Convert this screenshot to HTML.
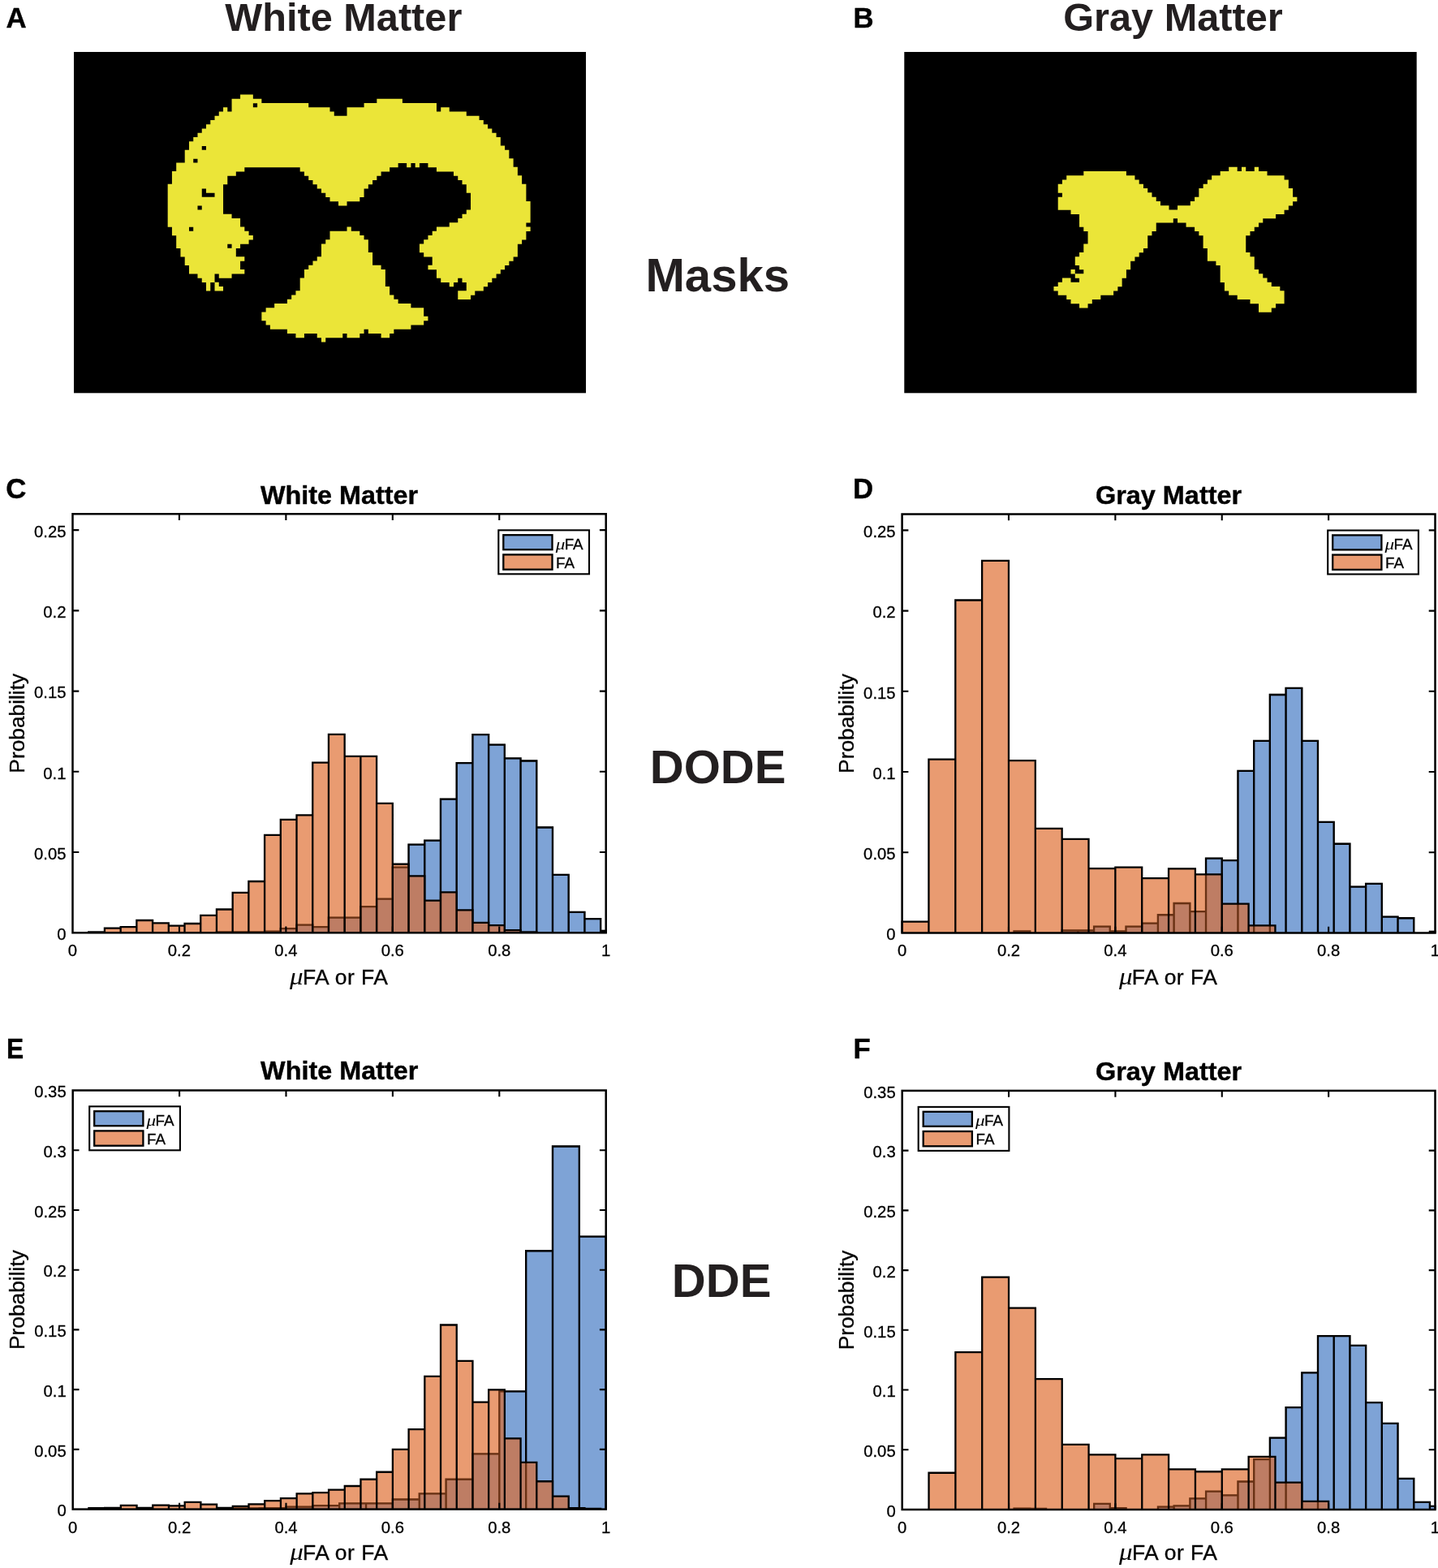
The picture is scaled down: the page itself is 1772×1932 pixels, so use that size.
<!DOCTYPE html>
<html lang="en">
<head>
<meta charset="utf-8">
<title>White and gray matter masks with μFA and FA histograms</title>
<style>
html,body{margin:0;padding:0;background:#fff}
body{width:1772px;height:1932px;overflow:hidden}
svg{display:block}
text{font-family:"Liberation Sans",sans-serif}
.mu{font-family:"Liberation Serif","DejaVu Serif",serif;font-style:italic}
</style>
</head>
<body>
<svg width="1772" height="1932" viewBox="0 0 1772 1932">
<rect width="1772" height="1932" fill="#fff"/>
<text x="7.6" y="34" font-size="34.8" font-weight="bold" text-anchor="start" fill="#000" stroke="#000" stroke-width="0.4">A</text>
<text x="1051.5" y="34" font-size="34.8" font-weight="bold" text-anchor="start" fill="#000" stroke="#000" stroke-width="0.4">B</text>
<text x="7.2" y="613.7" font-size="34.8" font-weight="bold" text-anchor="start" fill="#000" stroke="#000" stroke-width="0.4">C</text>
<text x="1051" y="614" font-size="34.8" font-weight="bold" text-anchor="start" fill="#000" stroke="#000" stroke-width="0.4">D</text>
<text x="7.9" y="1303.75" font-size="34.8" font-weight="bold" text-anchor="start" fill="#000" stroke="#000" stroke-width="0.4" textLength="21.2" lengthAdjust="spacingAndGlyphs">E</text>
<text x="1051.5" y="1304" font-size="34.8" font-weight="bold" text-anchor="start" fill="#000" stroke="#000" stroke-width="0.4">F</text>
<text x="423.3" y="37.9" font-size="48.7" font-weight="bold" text-anchor="middle" fill="#231f20" >White Matter</text>
<text x="1445.5" y="37.9" font-size="48.7" font-weight="bold" text-anchor="middle" fill="#231f20" >Gray Matter</text>
<text x="884.3" y="359.2" font-size="58.1" font-weight="bold" text-anchor="middle" fill="#231f20" >Masks</text>
<text x="884.6" y="965" font-size="58.1" font-weight="bold" text-anchor="middle" fill="#231f20" >DODE</text>
<text x="889.2" y="1598" font-size="58.1" font-weight="bold" text-anchor="middle" fill="#231f20" >DDE</text>
<rect x="91" y="64" width="631" height="420.3" fill="#000"/>
<path d="M296.08 116.54H311.85V122.09H296.08ZM285.56 121.79H322.37V127.34H285.56ZM464.34 121.79H495.89V127.34H464.34ZM285.56 127.05H311.85V132.60H285.56ZM317.11 127.05H380.21V132.60H317.11ZM448.57 127.05H537.96V132.60H448.57ZM275.04 132.30H280.30V137.85H275.04ZM285.56 132.30H406.50V137.85H285.56ZM427.53 132.30H537.96V137.85H427.53ZM543.22 132.30H553.73V137.85H543.22ZM269.78 137.55H411.76V143.11H269.78ZM427.53 137.55H574.77V143.11H427.53ZM264.52 142.81H590.54V148.36H264.52ZM259.27 148.06H595.80V153.61H259.27ZM254.01 153.31H601.06V158.87H254.01ZM248.75 158.57H606.32V164.12H248.75ZM243.49 163.82H611.58V169.38H243.49ZM238.23 169.07H616.83V174.63H238.23ZM232.98 174.33H616.83V179.88H232.98ZM232.98 179.58H248.75V185.14H232.98ZM254.01 179.58H622.09V185.14H254.01ZM227.72 184.84H627.35V190.39H227.72ZM227.72 190.09H627.35V195.64H227.72ZM227.72 195.34H238.23V200.90H227.72ZM243.49 195.34H632.61V200.90H243.49ZM217.20 200.60H490.63V206.15H217.20ZM501.15 200.60H506.41V206.15H501.15ZM511.67 200.60H516.92V206.15H511.67ZM527.44 200.60H632.61V206.15H527.44ZM217.20 205.85H301.33V211.41H217.20ZM369.69 205.85H480.12V211.41H369.69ZM537.96 205.85H637.87V211.41H537.96ZM211.94 211.11H290.82V216.66H211.94ZM374.95 211.11H469.60V216.66H374.95ZM558.99 211.11H637.87V216.66H558.99ZM211.94 216.36H280.30V221.91H211.94ZM380.21 216.36H464.34V221.91H380.21ZM564.25 216.36H643.12V221.91H564.25ZM211.94 221.61H280.30V227.17H211.94ZM385.47 221.61H459.08V227.17H385.47ZM569.51 221.61H643.12V227.17H569.51ZM206.68 226.87H275.04V232.42H206.68ZM390.73 226.87H453.83V232.42H390.73ZM574.77 226.87H648.38V232.42H574.77ZM206.68 232.12H248.75V237.67H206.68ZM254.01 232.12H275.04V237.67H254.01ZM395.98 232.12H448.57V237.67H395.98ZM574.77 232.12H648.38V237.67H574.77ZM206.68 237.37H248.75V242.93H206.68ZM264.52 237.37H275.04V242.93H264.52ZM401.24 237.37H448.57V242.93H401.24ZM580.03 237.37H648.38V242.93H580.03ZM206.68 242.63H275.04V248.18H206.68ZM406.50 242.63H443.31V248.18H406.50ZM580.03 242.63H648.38V248.18H580.03ZM206.68 247.88H275.04V253.44H206.68ZM417.02 247.88H427.53V253.44H417.02ZM580.03 247.88H653.64V253.44H580.03ZM206.68 253.13H243.49V258.69H206.68ZM248.75 253.13H275.04V258.69H248.75ZM580.03 253.13H653.64V258.69H580.03ZM206.68 258.39H275.04V263.94H206.68ZM574.77 258.39H653.64V263.94H574.77ZM206.68 263.64H285.56V269.20H206.68ZM569.51 263.64H653.64V269.20H569.51ZM206.68 268.90H296.08V274.45H206.68ZM564.25 268.90H653.64V274.45H564.25ZM206.68 274.15H296.08V279.70H206.68ZM553.73 274.15H648.38V279.70H553.73ZM211.94 279.40H232.98V284.96H211.94ZM238.23 279.40H301.33V284.96H238.23ZM427.53 279.40H432.79V284.96H427.53ZM537.96 279.40H653.64V284.96H537.96ZM211.94 284.66H306.59V290.21H211.94ZM406.50 284.66H443.31V290.21H406.50ZM532.70 284.66H648.38V290.21H532.70ZM217.20 289.91H311.85V295.47H217.20ZM406.50 289.91H448.57V295.47H406.50ZM527.44 289.91H648.38V295.47H527.44ZM217.20 295.17H306.59V300.72H217.20ZM401.24 295.17H453.83V300.72H401.24ZM522.18 295.17H643.12V300.72H522.18ZM217.20 300.42H280.30V305.97H217.20ZM285.56 300.42H296.08V305.97H285.56ZM395.98 300.42H453.83V305.97H395.98ZM516.92 300.42H637.87V305.97H516.92ZM222.46 305.67H290.82V311.23H222.46ZM395.98 305.67H453.83V311.23H395.98ZM516.92 305.67H637.87V311.23H516.92ZM222.46 310.93H290.82V316.48H222.46ZM395.98 310.93H459.08V316.48H395.98ZM522.18 310.93H637.87V316.48H522.18ZM227.72 316.18H301.33V321.73H227.72ZM390.73 316.18H459.08V321.73H390.73ZM532.70 316.18H632.61V321.73H532.70ZM227.72 321.43H296.08V326.99H227.72ZM385.47 321.43H459.08V326.99H385.47ZM532.70 321.43H627.35V326.99H532.70ZM232.98 326.69H296.08V332.24H232.98ZM380.21 326.69H469.60V332.24H380.21ZM527.44 326.69H622.09V332.24H527.44ZM232.98 331.94H301.33V337.50H232.98ZM374.95 331.94H474.86V337.50H374.95ZM537.96 331.94H616.83V337.50H537.96ZM243.49 337.19H264.52V342.75H243.49ZM269.78 337.19H285.56V342.75H269.78ZM374.95 337.19H474.86V342.75H374.95ZM537.96 337.19H611.58V342.75H537.96ZM248.75 342.45H264.52V348.00H248.75ZM369.69 342.45H474.86V348.00H369.69ZM543.22 342.45H564.25V348.00H543.22ZM569.51 342.45H606.32V348.00H569.51ZM254.01 347.70H259.27V353.26H254.01ZM264.52 347.70H269.78V353.26H264.52ZM369.69 347.70H474.86V353.26H369.69ZM553.73 347.70H558.99V353.26H553.73ZM574.77 347.70H601.06V353.26H574.77ZM254.01 352.96H259.27V358.51H254.01ZM264.52 352.96H275.04V358.51H264.52ZM369.69 352.96H480.12V358.51H369.69ZM574.77 352.96H595.80V358.51H574.77ZM364.43 358.21H480.12V363.76H364.43ZM564.25 358.21H585.28V363.76H564.25ZM359.18 363.46H485.38V369.02H359.18ZM564.25 363.46H580.03V369.02H564.25ZM353.92 368.72H490.63V374.27H353.92ZM338.14 373.97H506.41V379.53H338.14ZM327.62 379.23H522.18V384.78H327.62ZM322.37 384.48H522.18V390.03H322.37ZM322.37 389.73H527.44V395.29H322.37ZM327.62 394.99H522.18V400.54H327.62ZM332.88 400.24H506.41V405.79H332.88ZM353.92 405.49H448.57V411.05H353.92ZM453.83 405.49H485.38V411.05H453.83ZM364.43 410.75H374.95V416.30H364.43ZM390.73 410.75H422.28V416.30H390.73ZM427.53 410.75H443.31V416.30H427.53ZM469.60 410.75H480.12V416.30H469.60ZM395.98 416.00H401.24V421.56H395.98Z" fill="#ebe538"/>
<rect x="1114.3" y="64" width="631.4000000000001" height="420.3" fill="#000"/>
<path d="M1514.19 205.85H1524.71V211.41H1514.19ZM1529.97 205.85H1535.23V211.41H1529.97ZM1545.76 205.85H1551.02V211.41H1545.76ZM1335.29 211.11H1387.91V216.66H1335.29ZM1503.66 211.11H1561.54V216.66H1503.66ZM1314.24 216.36H1398.43V221.91H1314.24ZM1493.14 216.36H1582.59V221.91H1493.14ZM1308.98 221.61H1403.69V227.17H1308.98ZM1487.88 221.61H1587.85V227.17H1487.88ZM1303.72 226.87H1408.95V232.42H1303.72ZM1482.62 226.87H1587.85V232.42H1482.62ZM1303.72 232.12H1414.22V237.67H1303.72ZM1477.36 232.12H1593.11V237.67H1477.36ZM1308.98 237.37H1419.48V242.93H1308.98ZM1477.36 237.37H1593.11V242.93H1477.36ZM1303.72 242.63H1424.74V248.18H1303.72ZM1472.09 242.63H1598.37V248.18H1472.09ZM1303.72 247.88H1430.00V253.44H1303.72ZM1466.83 247.88H1593.11V253.44H1466.83ZM1303.72 253.13H1440.52V258.69H1303.72ZM1451.05 253.13H1587.85V258.69H1451.05ZM1319.51 258.39H1582.59V263.94H1319.51ZM1330.03 263.64H1572.07V269.20H1330.03ZM1330.03 268.90H1445.79V274.45H1330.03ZM1451.05 268.90H1556.28V274.45H1451.05ZM1330.03 274.15H1424.74V279.70H1330.03ZM1461.57 274.15H1551.02V279.70H1461.57ZM1335.29 279.40H1424.74V284.96H1335.29ZM1472.09 279.40H1545.76V284.96H1472.09ZM1340.55 284.66H1419.48V290.21H1340.55ZM1477.36 284.66H1540.49V290.21H1477.36ZM1340.55 289.91H1414.22V295.47H1340.55ZM1482.62 289.91H1535.23V295.47H1482.62ZM1340.55 295.17H1414.22V300.72H1340.55ZM1482.62 295.17H1535.23V300.72H1482.62ZM1335.29 300.42H1414.22V305.97H1335.29ZM1482.62 300.42H1535.23V305.97H1482.62ZM1335.29 305.67H1408.95V311.23H1335.29ZM1487.88 305.67H1535.23V311.23H1487.88ZM1330.03 310.93H1403.69V316.48H1330.03ZM1487.88 310.93H1540.49V316.48H1487.88ZM1324.77 316.18H1398.43V321.73H1324.77ZM1487.88 316.18H1545.76V321.73H1487.88ZM1324.77 321.43H1393.17V326.99H1324.77ZM1498.40 321.43H1545.76V326.99H1498.40ZM1330.03 326.69H1393.17V332.24H1330.03ZM1503.66 326.69H1545.76V332.24H1503.66ZM1319.51 331.94H1324.77V337.50H1319.51ZM1335.29 331.94H1387.91V337.50H1335.29ZM1503.66 331.94H1551.02V337.50H1503.66ZM1324.77 337.19H1387.91V342.75H1324.77ZM1503.66 337.19H1556.28V342.75H1503.66ZM1308.98 342.45H1319.51V348.00H1308.98ZM1330.03 342.45H1382.64V348.00H1330.03ZM1503.66 342.45H1561.54V348.00H1503.66ZM1303.72 347.70H1382.64V353.26H1303.72ZM1508.92 347.70H1566.80V353.26H1508.92ZM1298.46 352.96H1377.38V358.51H1298.46ZM1508.92 352.96H1577.33V358.51H1508.92ZM1303.72 358.21H1372.12V363.76H1303.72ZM1514.19 358.21H1582.59V363.76H1514.19ZM1314.24 363.46H1356.34V369.02H1314.24ZM1524.71 363.46H1582.59V369.02H1524.71ZM1319.51 368.72H1345.81V374.27H1319.51ZM1540.49 368.72H1582.59V374.27H1540.49ZM1330.03 373.97H1340.55V379.53H1330.03ZM1551.02 373.97H1572.07V379.53H1551.02ZM1551.02 379.23H1566.80V384.78H1551.02Z" fill="#ebe538"/>
<g>
<rect x="266.94" y="1148.31" width="19.72" height="0.99" fill="#7ea3d6" fill-opacity="1" stroke="none"/>
<rect x="286.66" y="1148.31" width="19.72" height="0.99" fill="#7ea3d6" fill-opacity="1" stroke="none"/>
<rect x="306.38" y="1148.31" width="19.72" height="0.99" fill="#7ea3d6" fill-opacity="1" stroke="none"/>
<rect x="326.09" y="1147.71" width="19.72" height="1.59" fill="#7ea3d6" fill-opacity="1" stroke="none"/>
<rect x="345.81" y="1144.14" width="19.72" height="5.16" fill="#7ea3d6" fill-opacity="1" stroke="none"/>
<rect x="365.52" y="1139.57" width="19.72" height="9.73" fill="#7ea3d6" fill-opacity="1" stroke="none"/>
<rect x="385.24" y="1142.15" width="19.72" height="7.15" fill="#7ea3d6" fill-opacity="1" stroke="none"/>
<rect x="404.96" y="1130.64" width="19.72" height="18.66" fill="#7ea3d6" fill-opacity="1" stroke="none"/>
<rect x="424.67" y="1130.64" width="19.72" height="18.66" fill="#7ea3d6" fill-opacity="1" stroke="none"/>
<rect x="444.39" y="1117.15" width="19.72" height="32.15" fill="#7ea3d6" fill-opacity="1" stroke="none"/>
<rect x="464.10" y="1107.62" width="19.72" height="41.68" fill="#7ea3d6" fill-opacity="1" stroke="none"/>
<rect x="483.82" y="1068.72" width="19.72" height="80.58" fill="#7ea3d6" fill-opacity="1" stroke="none"/>
<rect x="503.54" y="1040.53" width="19.72" height="108.77" fill="#7ea3d6" fill-opacity="1" stroke="none"/>
<rect x="523.25" y="1035.57" width="19.72" height="113.73" fill="#7ea3d6" fill-opacity="1" stroke="none"/>
<rect x="542.97" y="984.56" width="19.72" height="164.74" fill="#7ea3d6" fill-opacity="1" stroke="none"/>
<rect x="562.68" y="940.10" width="19.72" height="209.20" fill="#7ea3d6" fill-opacity="1" stroke="none"/>
<rect x="582.40" y="905.17" width="19.72" height="244.13" fill="#7ea3d6" fill-opacity="1" stroke="none"/>
<rect x="602.12" y="917.67" width="19.72" height="231.63" fill="#7ea3d6" fill-opacity="1" stroke="none"/>
<rect x="621.83" y="934.35" width="19.72" height="214.95" fill="#7ea3d6" fill-opacity="1" stroke="none"/>
<rect x="641.55" y="937.52" width="19.72" height="211.78" fill="#7ea3d6" fill-opacity="1" stroke="none"/>
<rect x="661.26" y="1019.49" width="19.72" height="129.81" fill="#7ea3d6" fill-opacity="1" stroke="none"/>
<rect x="680.98" y="1077.85" width="19.72" height="71.45" fill="#7ea3d6" fill-opacity="1" stroke="none"/>
<rect x="700.70" y="1123.89" width="19.72" height="25.41" fill="#7ea3d6" fill-opacity="1" stroke="none"/>
<rect x="720.41" y="1132.03" width="19.72" height="17.27" fill="#7ea3d6" fill-opacity="1" stroke="none"/>
<rect x="740.13" y="1146.92" width="6.57" height="2.38" fill="#7ea3d6" fill-opacity="1" stroke="none"/>
<path d="M266.94 1149.30V1148.31H286.66V1149.30M286.66 1149.30V1148.31H306.38V1149.30M306.38 1149.30V1148.31H326.09V1149.30M326.09 1149.30V1147.71H345.81V1149.30M345.81 1149.30V1144.14H365.52V1149.30M365.52 1149.30V1139.57H385.24V1149.30M385.24 1149.30V1142.15H404.96V1149.30M404.96 1149.30V1130.64H424.67V1149.30M424.67 1149.30V1130.64H444.39V1149.30M444.39 1149.30V1117.15H464.10V1149.30M464.10 1149.30V1107.62H483.82V1149.30M483.82 1149.30V1068.72H503.54V1149.30M503.54 1149.30V1040.53H523.25V1149.30M523.25 1149.30V1035.57H542.97V1149.30M542.97 1149.30V984.56H562.68V1149.30M562.68 1149.30V940.10H582.40V1149.30M582.40 1149.30V905.17H602.12V1149.30M602.12 1149.30V917.67H621.83V1149.30M621.83 1149.30V934.35H641.55V1149.30M641.55 1149.30V937.52H661.26V1149.30M661.26 1149.30V1019.49H680.98V1149.30M680.98 1149.30V1077.85H700.70V1149.30M700.70 1149.30V1123.89H720.41V1149.30M720.41 1149.30V1132.03H740.13V1149.30M740.13 1149.30V1146.92H746.70V1149.30" fill="none" stroke="#000" stroke-width="2.3" stroke-opacity="1" stroke-linejoin="miter"/>
<rect x="109.22" y="1148.31" width="19.72" height="0.99" fill="rgb(222,106,43)" fill-opacity="0.67" stroke="none"/>
<rect x="128.93" y="1143.54" width="19.72" height="5.76" fill="rgb(222,106,43)" fill-opacity="0.67" stroke="none"/>
<rect x="148.65" y="1142.15" width="19.72" height="7.15" fill="rgb(222,106,43)" fill-opacity="0.67" stroke="none"/>
<rect x="168.36" y="1134.02" width="19.72" height="15.28" fill="rgb(222,106,43)" fill-opacity="0.67" stroke="none"/>
<rect x="188.08" y="1137.39" width="19.72" height="11.91" fill="rgb(222,106,43)" fill-opacity="0.67" stroke="none"/>
<rect x="207.80" y="1140.57" width="19.72" height="8.73" fill="rgb(222,106,43)" fill-opacity="0.67" stroke="none"/>
<rect x="227.51" y="1137.99" width="19.72" height="11.31" fill="rgb(222,106,43)" fill-opacity="0.67" stroke="none"/>
<rect x="247.23" y="1127.86" width="19.72" height="21.44" fill="rgb(222,106,43)" fill-opacity="0.67" stroke="none"/>
<rect x="266.94" y="1120.52" width="19.72" height="28.78" fill="rgb(222,106,43)" fill-opacity="0.67" stroke="none"/>
<rect x="286.66" y="1099.88" width="19.72" height="49.42" fill="rgb(222,106,43)" fill-opacity="0.67" stroke="none"/>
<rect x="306.38" y="1085.98" width="19.72" height="63.32" fill="rgb(222,106,43)" fill-opacity="0.67" stroke="none"/>
<rect x="326.09" y="1028.82" width="19.72" height="120.48" fill="rgb(222,106,43)" fill-opacity="0.67" stroke="none"/>
<rect x="345.81" y="1009.97" width="19.72" height="139.33" fill="rgb(222,106,43)" fill-opacity="0.67" stroke="none"/>
<rect x="365.52" y="1004.41" width="19.72" height="144.89" fill="rgb(222,106,43)" fill-opacity="0.67" stroke="none"/>
<rect x="385.24" y="939.70" width="19.72" height="209.60" fill="rgb(222,106,43)" fill-opacity="0.67" stroke="none"/>
<rect x="404.96" y="904.97" width="19.72" height="244.33" fill="rgb(222,106,43)" fill-opacity="0.67" stroke="none"/>
<rect x="424.67" y="931.96" width="19.72" height="217.34" fill="rgb(222,106,43)" fill-opacity="0.67" stroke="none"/>
<rect x="444.39" y="931.96" width="19.72" height="217.34" fill="rgb(222,106,43)" fill-opacity="0.67" stroke="none"/>
<rect x="464.10" y="989.92" width="19.72" height="159.38" fill="rgb(222,106,43)" fill-opacity="0.67" stroke="none"/>
<rect x="483.82" y="1064.75" width="19.72" height="84.55" fill="rgb(222,106,43)" fill-opacity="0.67" stroke="none"/>
<rect x="503.54" y="1079.43" width="19.72" height="69.87" fill="rgb(222,106,43)" fill-opacity="0.67" stroke="none"/>
<rect x="523.25" y="1109.60" width="19.72" height="39.70" fill="rgb(222,106,43)" fill-opacity="0.67" stroke="none"/>
<rect x="542.97" y="1099.28" width="19.72" height="50.02" fill="rgb(222,106,43)" fill-opacity="0.67" stroke="none"/>
<rect x="562.68" y="1121.31" width="19.72" height="27.99" fill="rgb(222,106,43)" fill-opacity="0.67" stroke="none"/>
<rect x="582.40" y="1136.80" width="19.72" height="12.50" fill="rgb(222,106,43)" fill-opacity="0.67" stroke="none"/>
<rect x="602.12" y="1140.17" width="19.72" height="9.13" fill="rgb(222,106,43)" fill-opacity="0.67" stroke="none"/>
<rect x="621.83" y="1146.12" width="19.72" height="3.18" fill="rgb(222,106,43)" fill-opacity="0.67" stroke="none"/>
<rect x="641.55" y="1148.31" width="19.72" height="0.99" fill="rgb(222,106,43)" fill-opacity="0.67" stroke="none"/>
<path d="M266.94 1149.30V1148.31H286.66V1149.30M286.66 1149.30V1148.31H306.38V1149.30M306.38 1149.30V1148.31H326.09V1149.30M326.09 1149.30V1147.71H345.81V1149.30M345.81 1149.30V1144.14H365.52V1149.30M365.52 1149.30V1139.57H385.24V1149.30M385.24 1149.30V1142.15H404.96V1149.30M404.96 1149.30V1130.64H424.67V1149.30M424.67 1149.30V1130.64H444.39V1149.30M444.39 1149.30V1117.15H464.10V1149.30M464.10 1149.30V1107.62H483.82V1149.30M483.82 1149.30V1068.72H503.54V1149.30M503.54 1149.30V1040.53H523.25V1149.30M523.25 1149.30V1035.57H542.97V1149.30M542.97 1149.30V984.56H562.68V1149.30M562.68 1149.30V940.10H582.40V1149.30M582.40 1149.30V905.17H602.12V1149.30M602.12 1149.30V917.67H621.83V1149.30M621.83 1149.30V934.35H641.55V1149.30M641.55 1149.30V937.52H661.26V1149.30M661.26 1149.30V1019.49H680.98V1149.30M680.98 1149.30V1077.85H700.70V1149.30M700.70 1149.30V1123.89H720.41V1149.30M720.41 1149.30V1132.03H740.13V1149.30M740.13 1149.30V1146.92H746.70V1149.30" fill="none" stroke="#000" stroke-width="2.3" stroke-opacity="0.3" stroke-linejoin="miter"/>
<path d="M109.22 1149.30V1148.31H128.93V1149.30M128.93 1149.30V1143.54H148.65V1149.30M148.65 1149.30V1142.15H168.36V1149.30M168.36 1149.30V1134.02H188.08V1149.30M188.08 1149.30V1137.39H207.80V1149.30M207.80 1149.30V1140.57H227.51V1149.30M227.51 1149.30V1137.99H247.23V1149.30M247.23 1149.30V1127.86H266.94V1149.30M266.94 1149.30V1120.52H286.66V1149.30M286.66 1149.30V1099.88H306.38V1149.30M306.38 1149.30V1085.98H326.09V1149.30M326.09 1149.30V1028.82H345.81V1149.30M345.81 1149.30V1009.97H365.52V1149.30M365.52 1149.30V1004.41H385.24V1149.30M385.24 1149.30V939.70H404.96V1149.30M404.96 1149.30V904.97H424.67V1149.30M424.67 1149.30V931.96H444.39V1149.30M444.39 1149.30V931.96H464.10V1149.30M464.10 1149.30V989.92H483.82V1149.30M483.82 1149.30V1064.75H503.54V1149.30M503.54 1149.30V1079.43H523.25V1149.30M523.25 1149.30V1109.60H542.97V1149.30M542.97 1149.30V1099.28H562.68V1149.30M562.68 1149.30V1121.31H582.40V1149.30M582.40 1149.30V1136.80H602.12V1149.30M602.12 1149.30V1140.17H621.83V1149.30M621.83 1149.30V1146.12H641.55V1149.30M641.55 1149.30V1148.31H661.26V1149.30" fill="none" stroke="#000" stroke-width="2.3" stroke-opacity="1" stroke-linejoin="miter"/>
<rect x="89.5" y="633.25" width="657.2" height="516.05" fill="none" stroke="#000" stroke-width="2.5"/>
<text x="89.50" y="1178.20" font-size="20.3" font-weight="normal" text-anchor="middle" fill="#000" stroke="#000" stroke-width="0.3">0</text>
<path d="M220.94 1149.3v-7.8M220.94 633.25v7.8" stroke="#000" stroke-width="2.1" fill="none"/>
<text x="220.94" y="1178.20" font-size="20.3" font-weight="normal" text-anchor="middle" fill="#000" stroke="#000" stroke-width="0.3">0.2</text>
<path d="M352.38 1149.3v-7.8M352.38 633.25v7.8" stroke="#000" stroke-width="2.1" fill="none"/>
<text x="352.38" y="1178.20" font-size="20.3" font-weight="normal" text-anchor="middle" fill="#000" stroke="#000" stroke-width="0.3">0.4</text>
<path d="M483.82 1149.3v-7.8M483.82 633.25v7.8" stroke="#000" stroke-width="2.1" fill="none"/>
<text x="483.82" y="1178.20" font-size="20.3" font-weight="normal" text-anchor="middle" fill="#000" stroke="#000" stroke-width="0.3">0.6</text>
<path d="M615.26 1149.3v-7.8M615.26 633.25v7.8" stroke="#000" stroke-width="2.1" fill="none"/>
<text x="615.26" y="1178.20" font-size="20.3" font-weight="normal" text-anchor="middle" fill="#000" stroke="#000" stroke-width="0.3">0.8</text>
<text x="746.70" y="1178.20" font-size="20.3" font-weight="normal" text-anchor="middle" fill="#000" stroke="#000" stroke-width="0.3">1</text>
<text x="81.5" y="1158.00" font-size="20.3" font-weight="normal" text-anchor="end" fill="#000" stroke="#000" stroke-width="0.3">0</text>
<path d="M89.5 1050.06h7.8M746.7 1050.06h-7.8" stroke="#000" stroke-width="2.1" fill="none"/>
<text x="81.5" y="1058.76" font-size="20.3" font-weight="normal" text-anchor="end" fill="#000" stroke="#000" stroke-width="0.3">0.05</text>
<path d="M89.5 950.82h7.8M746.7 950.82h-7.8" stroke="#000" stroke-width="2.1" fill="none"/>
<text x="81.5" y="959.52" font-size="20.3" font-weight="normal" text-anchor="end" fill="#000" stroke="#000" stroke-width="0.3">0.1</text>
<path d="M89.5 851.58h7.8M746.7 851.58h-7.8" stroke="#000" stroke-width="2.1" fill="none"/>
<text x="81.5" y="860.28" font-size="20.3" font-weight="normal" text-anchor="end" fill="#000" stroke="#000" stroke-width="0.3">0.15</text>
<path d="M89.5 752.34h7.8M746.7 752.34h-7.8" stroke="#000" stroke-width="2.1" fill="none"/>
<text x="81.5" y="761.04" font-size="20.3" font-weight="normal" text-anchor="end" fill="#000" stroke="#000" stroke-width="0.3">0.2</text>
<path d="M89.5 653.10h7.8M746.7 653.10h-7.8" stroke="#000" stroke-width="2.1" fill="none"/>
<text x="81.5" y="661.80" font-size="20.3" font-weight="normal" text-anchor="end" fill="#000" stroke="#000" stroke-width="0.3">0.25</text>
<text x="418.10" y="621.25" font-size="31.7" font-weight="bold" text-anchor="middle" fill="#000" textLength="194.2" lengthAdjust="spacingAndGlyphs" stroke="#000" stroke-width="0.4">White Matter</text>
<text y="1213.0" font-size="26.5" fill="#000"><tspan class="mu" x="357.10" font-size="29" textLength="16.6" lengthAdjust="spacingAndGlyphs">μ</tspan><tspan x="372.90" textLength="105.1" lengthAdjust="spacing" stroke="#000" stroke-width="0.3">FA or FA</tspan></text>
<text transform="translate(30 891.27) rotate(-90)" font-size="26.3" text-anchor="middle" fill="#000" stroke="#000" stroke-width="0.3">Probability</text>
<rect x="614.3" y="653.3" width="111.7" height="54" fill="#fff" stroke="#000" stroke-width="2.1"/>
<rect x="620.3" y="659.1999999999999" width="60.2" height="18" fill="#7ea3d6" stroke="#000" stroke-width="2.3"/>
<rect x="620.3" y="683.4" width="60.2" height="18.3" fill="rgb(222,106,43)" fill-opacity="0.67" stroke="#000" stroke-width="2.3"/>
<text y="676.70" font-size="18.8" fill="#000"><tspan class="mu" x="684.70" font-size="19.5" textLength="11.6" lengthAdjust="spacingAndGlyphs">μ</tspan><tspan x="695.70" stroke="#000" stroke-width="0.3">FA</tspan></text>
<text x="685.10" y="699.80" font-size="18.8" fill="#000" stroke="#000" stroke-width="0.3">FA</text>
</g>
<g>
<rect x="1249.55" y="1147.52" width="19.71" height="1.98" fill="#7ea3d6" fill-opacity="1" stroke="none"/>
<rect x="1308.67" y="1146.52" width="19.71" height="2.98" fill="#7ea3d6" fill-opacity="1" stroke="none"/>
<rect x="1328.38" y="1146.52" width="19.71" height="2.98" fill="#7ea3d6" fill-opacity="1" stroke="none"/>
<rect x="1348.08" y="1141.56" width="19.71" height="7.94" fill="#7ea3d6" fill-opacity="1" stroke="none"/>
<rect x="1367.79" y="1147.52" width="19.71" height="1.98" fill="#7ea3d6" fill-opacity="1" stroke="none"/>
<rect x="1387.50" y="1141.56" width="19.71" height="7.94" fill="#7ea3d6" fill-opacity="1" stroke="none"/>
<rect x="1407.20" y="1137.59" width="19.71" height="11.91" fill="#7ea3d6" fill-opacity="1" stroke="none"/>
<rect x="1426.91" y="1127.27" width="19.71" height="22.23" fill="#7ea3d6" fill-opacity="1" stroke="none"/>
<rect x="1446.62" y="1112.98" width="19.71" height="36.52" fill="#7ea3d6" fill-opacity="1" stroke="none"/>
<rect x="1466.33" y="1123.10" width="19.71" height="26.40" fill="#7ea3d6" fill-opacity="1" stroke="none"/>
<rect x="1486.03" y="1057.61" width="19.71" height="91.89" fill="#7ea3d6" fill-opacity="1" stroke="none"/>
<rect x="1505.74" y="1060.19" width="19.71" height="89.31" fill="#7ea3d6" fill-opacity="1" stroke="none"/>
<rect x="1525.45" y="949.85" width="19.71" height="199.65" fill="#7ea3d6" fill-opacity="1" stroke="none"/>
<rect x="1545.15" y="912.93" width="19.71" height="236.57" fill="#7ea3d6" fill-opacity="1" stroke="none"/>
<rect x="1564.86" y="855.98" width="19.71" height="293.52" fill="#7ea3d6" fill-opacity="1" stroke="none"/>
<rect x="1584.57" y="847.84" width="19.71" height="301.66" fill="#7ea3d6" fill-opacity="1" stroke="none"/>
<rect x="1604.28" y="912.93" width="19.71" height="236.57" fill="#7ea3d6" fill-opacity="1" stroke="none"/>
<rect x="1623.98" y="1012.96" width="19.71" height="136.54" fill="#7ea3d6" fill-opacity="1" stroke="none"/>
<rect x="1643.69" y="1039.75" width="19.71" height="109.75" fill="#7ea3d6" fill-opacity="1" stroke="none"/>
<rect x="1663.40" y="1092.54" width="19.71" height="56.96" fill="#7ea3d6" fill-opacity="1" stroke="none"/>
<rect x="1683.10" y="1088.97" width="19.71" height="60.53" fill="#7ea3d6" fill-opacity="1" stroke="none"/>
<rect x="1702.81" y="1129.65" width="19.71" height="19.85" fill="#7ea3d6" fill-opacity="1" stroke="none"/>
<rect x="1722.52" y="1131.24" width="19.71" height="18.26" fill="#7ea3d6" fill-opacity="1" stroke="none"/>
<rect x="1761.93" y="1147.91" width="6.57" height="1.59" fill="#7ea3d6" fill-opacity="1" stroke="none"/>
<path d="M1249.55 1149.50V1147.52H1269.26V1149.50M1308.67 1149.50V1146.52H1328.38V1149.50M1328.38 1149.50V1146.52H1348.08V1149.50M1348.08 1149.50V1141.56H1367.79V1149.50M1367.79 1149.50V1147.52H1387.50V1149.50M1387.50 1149.50V1141.56H1407.20V1149.50M1407.20 1149.50V1137.59H1426.91V1149.50M1426.91 1149.50V1127.27H1446.62V1149.50M1446.62 1149.50V1112.98H1466.33V1149.50M1466.33 1149.50V1123.10H1486.03V1149.50M1486.03 1149.50V1057.61H1505.74V1149.50M1505.74 1149.50V1060.19H1525.45V1149.50M1525.45 1149.50V949.85H1545.15V1149.50M1545.15 1149.50V912.93H1564.86V1149.50M1564.86 1149.50V855.98H1584.57V1149.50M1584.57 1149.50V847.84H1604.28V1149.50M1604.28 1149.50V912.93H1623.98V1149.50M1623.98 1149.50V1012.96H1643.69V1149.50M1643.69 1149.50V1039.75H1663.40V1149.50M1663.40 1149.50V1092.54H1683.10V1149.50M1683.10 1149.50V1088.97H1702.81V1149.50M1702.81 1149.50V1129.65H1722.52V1149.50M1722.52 1149.50V1131.24H1742.22V1149.50M1761.93 1149.50V1147.91H1768.50V1149.50" fill="none" stroke="#000" stroke-width="2.3" stroke-opacity="1" stroke-linejoin="miter"/>
<rect x="1111.60" y="1135.61" width="32.85" height="13.89" fill="rgb(222,106,43)" fill-opacity="0.67" stroke="none"/>
<rect x="1144.44" y="935.56" width="32.85" height="213.94" fill="rgb(222,106,43)" fill-opacity="0.67" stroke="none"/>
<rect x="1177.29" y="739.48" width="32.85" height="410.02" fill="rgb(222,106,43)" fill-opacity="0.67" stroke="none"/>
<rect x="1210.13" y="690.86" width="32.85" height="458.64" fill="rgb(222,106,43)" fill-opacity="0.67" stroke="none"/>
<rect x="1242.98" y="937.15" width="32.84" height="212.35" fill="rgb(222,106,43)" fill-opacity="0.67" stroke="none"/>
<rect x="1275.82" y="1020.90" width="32.85" height="128.60" fill="rgb(222,106,43)" fill-opacity="0.67" stroke="none"/>
<rect x="1308.67" y="1033.80" width="32.84" height="115.70" fill="rgb(222,106,43)" fill-opacity="0.67" stroke="none"/>
<rect x="1341.51" y="1070.12" width="32.85" height="79.38" fill="rgb(222,106,43)" fill-opacity="0.67" stroke="none"/>
<rect x="1374.36" y="1068.53" width="32.85" height="80.97" fill="rgb(222,106,43)" fill-opacity="0.67" stroke="none"/>
<rect x="1407.20" y="1082.22" width="32.85" height="67.28" fill="rgb(222,106,43)" fill-opacity="0.67" stroke="none"/>
<rect x="1440.05" y="1070.31" width="32.85" height="79.19" fill="rgb(222,106,43)" fill-opacity="0.67" stroke="none"/>
<rect x="1472.89" y="1077.46" width="32.85" height="72.04" fill="rgb(222,106,43)" fill-opacity="0.67" stroke="none"/>
<rect x="1505.74" y="1113.58" width="32.85" height="35.92" fill="rgb(222,106,43)" fill-opacity="0.67" stroke="none"/>
<rect x="1538.59" y="1140.37" width="32.85" height="9.13" fill="rgb(222,106,43)" fill-opacity="0.67" stroke="none"/>
<path d="M1249.55 1149.50V1147.52H1269.26V1149.50M1308.67 1149.50V1146.52H1328.38V1149.50M1328.38 1149.50V1146.52H1348.08V1149.50M1348.08 1149.50V1141.56H1367.79V1149.50M1367.79 1149.50V1147.52H1387.50V1149.50M1387.50 1149.50V1141.56H1407.20V1149.50M1407.20 1149.50V1137.59H1426.91V1149.50M1426.91 1149.50V1127.27H1446.62V1149.50M1446.62 1149.50V1112.98H1466.33V1149.50M1466.33 1149.50V1123.10H1486.03V1149.50M1486.03 1149.50V1057.61H1505.74V1149.50M1505.74 1149.50V1060.19H1525.45V1149.50M1525.45 1149.50V949.85H1545.15V1149.50M1545.15 1149.50V912.93H1564.86V1149.50M1564.86 1149.50V855.98H1584.57V1149.50M1584.57 1149.50V847.84H1604.28V1149.50M1604.28 1149.50V912.93H1623.98V1149.50M1623.98 1149.50V1012.96H1643.69V1149.50M1643.69 1149.50V1039.75H1663.40V1149.50M1663.40 1149.50V1092.54H1683.10V1149.50M1683.10 1149.50V1088.97H1702.81V1149.50M1702.81 1149.50V1129.65H1722.52V1149.50M1722.52 1149.50V1131.24H1742.22V1149.50M1761.93 1149.50V1147.91H1768.50V1149.50" fill="none" stroke="#000" stroke-width="2.3" stroke-opacity="0.3" stroke-linejoin="miter"/>
<path d="M1111.60 1149.50V1135.61H1144.44V1149.50M1144.44 1149.50V935.56H1177.29V1149.50M1177.29 1149.50V739.48H1210.13V1149.50M1210.13 1149.50V690.86H1242.98V1149.50M1242.98 1149.50V937.15H1275.82V1149.50M1275.82 1149.50V1020.90H1308.67V1149.50M1308.67 1149.50V1033.80H1341.51V1149.50M1341.51 1149.50V1070.12H1374.36V1149.50M1374.36 1149.50V1068.53H1407.20V1149.50M1407.20 1149.50V1082.22H1440.05V1149.50M1440.05 1149.50V1070.31H1472.89V1149.50M1472.89 1149.50V1077.46H1505.74V1149.50M1505.74 1149.50V1113.58H1538.59V1149.50M1538.59 1149.50V1140.37H1571.43V1149.50" fill="none" stroke="#000" stroke-width="2.3" stroke-opacity="1" stroke-linejoin="miter"/>
<rect x="1111.6" y="633.5" width="656.9000000000001" height="516.0" fill="none" stroke="#000" stroke-width="2.5"/>
<text x="1111.60" y="1178.40" font-size="20.3" font-weight="normal" text-anchor="middle" fill="#000" stroke="#000" stroke-width="0.3">0</text>
<path d="M1242.98 1149.5v-7.8M1242.98 633.5v7.8" stroke="#000" stroke-width="2.1" fill="none"/>
<text x="1242.98" y="1178.40" font-size="20.3" font-weight="normal" text-anchor="middle" fill="#000" stroke="#000" stroke-width="0.3">0.2</text>
<path d="M1374.36 1149.5v-7.8M1374.36 633.5v7.8" stroke="#000" stroke-width="2.1" fill="none"/>
<text x="1374.36" y="1178.40" font-size="20.3" font-weight="normal" text-anchor="middle" fill="#000" stroke="#000" stroke-width="0.3">0.4</text>
<path d="M1505.74 1149.5v-7.8M1505.74 633.5v7.8" stroke="#000" stroke-width="2.1" fill="none"/>
<text x="1505.74" y="1178.40" font-size="20.3" font-weight="normal" text-anchor="middle" fill="#000" stroke="#000" stroke-width="0.3">0.6</text>
<path d="M1637.12 1149.5v-7.8M1637.12 633.5v7.8" stroke="#000" stroke-width="2.1" fill="none"/>
<text x="1637.12" y="1178.40" font-size="20.3" font-weight="normal" text-anchor="middle" fill="#000" stroke="#000" stroke-width="0.3">0.8</text>
<text x="1768.50" y="1178.40" font-size="20.3" font-weight="normal" text-anchor="middle" fill="#000" stroke="#000" stroke-width="0.3">1</text>
<text x="1103.6" y="1158.20" font-size="20.3" font-weight="normal" text-anchor="end" fill="#000" stroke="#000" stroke-width="0.3">0</text>
<path d="M1111.6 1050.27h7.8M1768.5 1050.27h-7.8" stroke="#000" stroke-width="2.1" fill="none"/>
<text x="1103.6" y="1058.97" font-size="20.3" font-weight="normal" text-anchor="end" fill="#000" stroke="#000" stroke-width="0.3">0.05</text>
<path d="M1111.6 951.04h7.8M1768.5 951.04h-7.8" stroke="#000" stroke-width="2.1" fill="none"/>
<text x="1103.6" y="959.74" font-size="20.3" font-weight="normal" text-anchor="end" fill="#000" stroke="#000" stroke-width="0.3">0.1</text>
<path d="M1111.6 851.81h7.8M1768.5 851.81h-7.8" stroke="#000" stroke-width="2.1" fill="none"/>
<text x="1103.6" y="860.51" font-size="20.3" font-weight="normal" text-anchor="end" fill="#000" stroke="#000" stroke-width="0.3">0.15</text>
<path d="M1111.6 752.58h7.8M1768.5 752.58h-7.8" stroke="#000" stroke-width="2.1" fill="none"/>
<text x="1103.6" y="761.28" font-size="20.3" font-weight="normal" text-anchor="end" fill="#000" stroke="#000" stroke-width="0.3">0.2</text>
<path d="M1111.6 653.35h7.8M1768.5 653.35h-7.8" stroke="#000" stroke-width="2.1" fill="none"/>
<text x="1103.6" y="662.05" font-size="20.3" font-weight="normal" text-anchor="end" fill="#000" stroke="#000" stroke-width="0.3">0.25</text>
<text x="1440.05" y="621.4" font-size="31.7" font-weight="bold" text-anchor="middle" fill="#000" textLength="180.2" lengthAdjust="spacingAndGlyphs" stroke="#000" stroke-width="0.4">Gray Matter</text>
<text y="1213.0" font-size="26.5" fill="#000"><tspan class="mu" x="1379.05" font-size="29" textLength="16.6" lengthAdjust="spacingAndGlyphs">μ</tspan><tspan x="1394.85" textLength="105.1" lengthAdjust="spacing" stroke="#000" stroke-width="0.3">FA or FA</tspan></text>
<text transform="translate(1052 891.50) rotate(-90)" font-size="26.3" text-anchor="middle" fill="#000" stroke="#000" stroke-width="0.3">Probability</text>
<rect x="1636.2" y="653.5" width="111.7" height="54" fill="#fff" stroke="#000" stroke-width="2.1"/>
<rect x="1642.2" y="659.4" width="60.2" height="18" fill="#7ea3d6" stroke="#000" stroke-width="2.3"/>
<rect x="1642.2" y="683.6" width="60.2" height="18.3" fill="rgb(222,106,43)" fill-opacity="0.67" stroke="#000" stroke-width="2.3"/>
<text y="676.90" font-size="18.8" fill="#000"><tspan class="mu" x="1706.60" font-size="19.5" textLength="11.6" lengthAdjust="spacingAndGlyphs">μ</tspan><tspan x="1717.60" stroke="#000" stroke-width="0.3">FA</tspan></text>
<text x="1707.00" y="700.00" font-size="18.8" fill="#000" stroke="#000" stroke-width="0.3">FA</text>
</g>
<g>
<rect x="286.80" y="1858.42" width="32.85" height="1.18" fill="#7ea3d6" fill-opacity="1" stroke="none"/>
<rect x="319.65" y="1858.13" width="32.85" height="1.47" fill="#7ea3d6" fill-opacity="1" stroke="none"/>
<rect x="352.50" y="1856.65" width="32.85" height="2.95" fill="#7ea3d6" fill-opacity="1" stroke="none"/>
<rect x="385.35" y="1855.18" width="32.85" height="4.42" fill="#7ea3d6" fill-opacity="1" stroke="none"/>
<rect x="418.20" y="1852.37" width="32.85" height="7.23" fill="#7ea3d6" fill-opacity="1" stroke="none"/>
<rect x="451.05" y="1852.37" width="32.85" height="7.23" fill="#7ea3d6" fill-opacity="1" stroke="none"/>
<rect x="483.90" y="1847.51" width="32.85" height="12.09" fill="#7ea3d6" fill-opacity="1" stroke="none"/>
<rect x="516.75" y="1840.43" width="32.85" height="19.17" fill="#7ea3d6" fill-opacity="1" stroke="none"/>
<rect x="549.60" y="1822.74" width="32.85" height="36.86" fill="#7ea3d6" fill-opacity="1" stroke="none"/>
<rect x="582.45" y="1791.47" width="32.85" height="68.13" fill="#7ea3d6" fill-opacity="1" stroke="none"/>
<rect x="615.30" y="1714.35" width="32.85" height="145.25" fill="#7ea3d6" fill-opacity="1" stroke="none"/>
<rect x="648.15" y="1541.24" width="32.85" height="318.36" fill="#7ea3d6" fill-opacity="1" stroke="none"/>
<rect x="681.00" y="1412.51" width="32.85" height="447.09" fill="#7ea3d6" fill-opacity="1" stroke="none"/>
<rect x="713.85" y="1523.55" width="32.85" height="336.05" fill="#7ea3d6" fill-opacity="1" stroke="none"/>
<path d="M286.80 1859.60V1858.42H319.65V1859.60M319.65 1859.60V1858.13H352.50V1859.60M352.50 1859.60V1856.65H385.35V1859.60M385.35 1859.60V1855.18H418.20V1859.60M418.20 1859.60V1852.37H451.05V1859.60M451.05 1859.60V1852.37H483.90V1859.60M483.90 1859.60V1847.51H516.75V1859.60M516.75 1859.60V1840.43H549.60V1859.60M549.60 1859.60V1822.74H582.45V1859.60M582.45 1859.60V1791.47H615.30V1859.60M615.30 1859.60V1714.35H648.15V1859.60M648.15 1859.60V1541.24H681.00V1859.60M681.00 1859.60V1412.51H713.85V1859.60M713.85 1859.60V1523.55H746.70V1859.60" fill="none" stroke="#000" stroke-width="2.3" stroke-opacity="1" stroke-linejoin="miter"/>
<rect x="109.41" y="1858.13" width="19.71" height="1.47" fill="rgb(222,106,43)" fill-opacity="0.67" stroke="none"/>
<rect x="129.12" y="1857.83" width="19.71" height="1.77" fill="rgb(222,106,43)" fill-opacity="0.67" stroke="none"/>
<rect x="148.83" y="1854.88" width="19.71" height="4.72" fill="rgb(222,106,43)" fill-opacity="0.67" stroke="none"/>
<rect x="168.54" y="1857.83" width="19.71" height="1.77" fill="rgb(222,106,43)" fill-opacity="0.67" stroke="none"/>
<rect x="188.25" y="1854.59" width="19.71" height="5.01" fill="rgb(222,106,43)" fill-opacity="0.67" stroke="none"/>
<rect x="207.96" y="1855.32" width="19.71" height="4.28" fill="rgb(222,106,43)" fill-opacity="0.67" stroke="none"/>
<rect x="227.67" y="1850.90" width="19.71" height="8.70" fill="rgb(222,106,43)" fill-opacity="0.67" stroke="none"/>
<rect x="247.38" y="1853.55" width="19.71" height="6.05" fill="rgb(222,106,43)" fill-opacity="0.67" stroke="none"/>
<rect x="267.09" y="1857.83" width="19.71" height="1.77" fill="rgb(222,106,43)" fill-opacity="0.67" stroke="none"/>
<rect x="286.80" y="1855.91" width="19.71" height="3.69" fill="rgb(222,106,43)" fill-opacity="0.67" stroke="none"/>
<rect x="306.51" y="1853.41" width="19.71" height="6.19" fill="rgb(222,106,43)" fill-opacity="0.67" stroke="none"/>
<rect x="326.22" y="1849.13" width="19.71" height="10.47" fill="rgb(222,106,43)" fill-opacity="0.67" stroke="none"/>
<rect x="345.93" y="1846.03" width="19.71" height="13.57" fill="rgb(222,106,43)" fill-opacity="0.67" stroke="none"/>
<rect x="365.64" y="1840.28" width="19.71" height="19.32" fill="rgb(222,106,43)" fill-opacity="0.67" stroke="none"/>
<rect x="385.35" y="1839.10" width="19.71" height="20.50" fill="rgb(222,106,43)" fill-opacity="0.67" stroke="none"/>
<rect x="405.06" y="1835.71" width="19.71" height="23.89" fill="rgb(222,106,43)" fill-opacity="0.67" stroke="none"/>
<rect x="424.77" y="1830.99" width="19.71" height="28.61" fill="rgb(222,106,43)" fill-opacity="0.67" stroke="none"/>
<rect x="444.48" y="1822.74" width="19.71" height="36.86" fill="rgb(222,106,43)" fill-opacity="0.67" stroke="none"/>
<rect x="464.19" y="1813.74" width="19.71" height="45.86" fill="rgb(222,106,43)" fill-opacity="0.67" stroke="none"/>
<rect x="483.90" y="1785.87" width="19.71" height="73.73" fill="rgb(222,106,43)" fill-opacity="0.67" stroke="none"/>
<rect x="503.61" y="1761.10" width="19.71" height="98.50" fill="rgb(222,106,43)" fill-opacity="0.67" stroke="none"/>
<rect x="523.32" y="1695.92" width="19.71" height="163.68" fill="rgb(222,106,43)" fill-opacity="0.67" stroke="none"/>
<rect x="543.03" y="1632.52" width="19.71" height="227.08" fill="rgb(222,106,43)" fill-opacity="0.67" stroke="none"/>
<rect x="562.74" y="1676.90" width="19.71" height="182.70" fill="rgb(222,106,43)" fill-opacity="0.67" stroke="none"/>
<rect x="582.45" y="1727.63" width="19.71" height="131.97" fill="rgb(222,106,43)" fill-opacity="0.67" stroke="none"/>
<rect x="602.16" y="1712.44" width="19.71" height="147.16" fill="rgb(222,106,43)" fill-opacity="0.67" stroke="none"/>
<rect x="621.87" y="1772.45" width="19.71" height="87.15" fill="rgb(222,106,43)" fill-opacity="0.67" stroke="none"/>
<rect x="641.58" y="1801.94" width="19.71" height="57.66" fill="rgb(222,106,43)" fill-opacity="0.67" stroke="none"/>
<rect x="661.29" y="1825.24" width="19.71" height="34.36" fill="rgb(222,106,43)" fill-opacity="0.67" stroke="none"/>
<rect x="681.00" y="1843.67" width="19.71" height="15.93" fill="rgb(222,106,43)" fill-opacity="0.67" stroke="none"/>
<rect x="700.71" y="1858.13" width="19.71" height="1.47" fill="rgb(222,106,43)" fill-opacity="0.67" stroke="none"/>
<rect x="720.42" y="1858.86" width="19.71" height="0.74" fill="rgb(222,106,43)" fill-opacity="0.67" stroke="none"/>
<path d="M286.80 1859.60V1858.42H319.65V1859.60M319.65 1859.60V1858.13H352.50V1859.60M352.50 1859.60V1856.65H385.35V1859.60M385.35 1859.60V1855.18H418.20V1859.60M418.20 1859.60V1852.37H451.05V1859.60M451.05 1859.60V1852.37H483.90V1859.60M483.90 1859.60V1847.51H516.75V1859.60M516.75 1859.60V1840.43H549.60V1859.60M549.60 1859.60V1822.74H582.45V1859.60M582.45 1859.60V1791.47H615.30V1859.60M615.30 1859.60V1714.35H648.15V1859.60M648.15 1859.60V1541.24H681.00V1859.60M681.00 1859.60V1412.51H713.85V1859.60M713.85 1859.60V1523.55H746.70V1859.60" fill="none" stroke="#000" stroke-width="2.3" stroke-opacity="0.3" stroke-linejoin="miter"/>
<path d="M109.41 1859.60V1858.13H129.12V1859.60M129.12 1859.60V1857.83H148.83V1859.60M148.83 1859.60V1854.88H168.54V1859.60M168.54 1859.60V1857.83H188.25V1859.60M188.25 1859.60V1854.59H207.96V1859.60M207.96 1859.60V1855.32H227.67V1859.60M227.67 1859.60V1850.90H247.38V1859.60M247.38 1859.60V1853.55H267.09V1859.60M267.09 1859.60V1857.83H286.80V1859.60M286.80 1859.60V1855.91H306.51V1859.60M306.51 1859.60V1853.41H326.22V1859.60M326.22 1859.60V1849.13H345.93V1859.60M345.93 1859.60V1846.03H365.64V1859.60M365.64 1859.60V1840.28H385.35V1859.60M385.35 1859.60V1839.10H405.06V1859.60M405.06 1859.60V1835.71H424.77V1859.60M424.77 1859.60V1830.99H444.48V1859.60M444.48 1859.60V1822.74H464.19V1859.60M464.19 1859.60V1813.74H483.90V1859.60M483.90 1859.60V1785.87H503.61V1859.60M503.61 1859.60V1761.10H523.32V1859.60M523.32 1859.60V1695.92H543.03V1859.60M543.03 1859.60V1632.52H562.74V1859.60M562.74 1859.60V1676.90H582.45V1859.60M582.45 1859.60V1727.63H602.16V1859.60M602.16 1859.60V1712.44H621.87V1859.60M621.87 1859.60V1772.45H641.58V1859.60M641.58 1859.60V1801.94H661.29V1859.60M661.29 1859.60V1825.24H681.00V1859.60M681.00 1859.60V1843.67H700.71V1859.60M700.71 1859.60V1858.13H720.42V1859.60M720.42 1859.60V1858.86H740.13V1859.60" fill="none" stroke="#000" stroke-width="2.3" stroke-opacity="1" stroke-linejoin="miter"/>
<rect x="89.7" y="1343.5" width="657.0" height="516.0999999999999" fill="none" stroke="#000" stroke-width="2.5"/>
<text x="89.70" y="1888.50" font-size="20.3" font-weight="normal" text-anchor="middle" fill="#000" stroke="#000" stroke-width="0.3">0</text>
<path d="M221.10 1859.6v-7.8M221.10 1343.5v7.8" stroke="#000" stroke-width="2.1" fill="none"/>
<text x="221.10" y="1888.50" font-size="20.3" font-weight="normal" text-anchor="middle" fill="#000" stroke="#000" stroke-width="0.3">0.2</text>
<path d="M352.50 1859.6v-7.8M352.50 1343.5v7.8" stroke="#000" stroke-width="2.1" fill="none"/>
<text x="352.50" y="1888.50" font-size="20.3" font-weight="normal" text-anchor="middle" fill="#000" stroke="#000" stroke-width="0.3">0.4</text>
<path d="M483.90 1859.6v-7.8M483.90 1343.5v7.8" stroke="#000" stroke-width="2.1" fill="none"/>
<text x="483.90" y="1888.50" font-size="20.3" font-weight="normal" text-anchor="middle" fill="#000" stroke="#000" stroke-width="0.3">0.6</text>
<path d="M615.30 1859.6v-7.8M615.30 1343.5v7.8" stroke="#000" stroke-width="2.1" fill="none"/>
<text x="615.30" y="1888.50" font-size="20.3" font-weight="normal" text-anchor="middle" fill="#000" stroke="#000" stroke-width="0.3">0.8</text>
<text x="746.70" y="1888.50" font-size="20.3" font-weight="normal" text-anchor="middle" fill="#000" stroke="#000" stroke-width="0.3">1</text>
<text x="81.7" y="1868.30" font-size="20.3" font-weight="normal" text-anchor="end" fill="#000" stroke="#000" stroke-width="0.3">0</text>
<path d="M89.7 1785.87h7.8M746.7 1785.87h-7.8" stroke="#000" stroke-width="2.1" fill="none"/>
<text x="81.7" y="1794.57" font-size="20.3" font-weight="normal" text-anchor="end" fill="#000" stroke="#000" stroke-width="0.3">0.05</text>
<path d="M89.7 1712.14h7.8M746.7 1712.14h-7.8" stroke="#000" stroke-width="2.1" fill="none"/>
<text x="81.7" y="1720.84" font-size="20.3" font-weight="normal" text-anchor="end" fill="#000" stroke="#000" stroke-width="0.3">0.1</text>
<path d="M89.7 1638.41h7.8M746.7 1638.41h-7.8" stroke="#000" stroke-width="2.1" fill="none"/>
<text x="81.7" y="1647.11" font-size="20.3" font-weight="normal" text-anchor="end" fill="#000" stroke="#000" stroke-width="0.3">0.15</text>
<path d="M89.7 1564.69h7.8M746.7 1564.69h-7.8" stroke="#000" stroke-width="2.1" fill="none"/>
<text x="81.7" y="1573.39" font-size="20.3" font-weight="normal" text-anchor="end" fill="#000" stroke="#000" stroke-width="0.3">0.2</text>
<path d="M89.7 1490.96h7.8M746.7 1490.96h-7.8" stroke="#000" stroke-width="2.1" fill="none"/>
<text x="81.7" y="1499.66" font-size="20.3" font-weight="normal" text-anchor="end" fill="#000" stroke="#000" stroke-width="0.3">0.25</text>
<path d="M89.7 1417.23h7.8M746.7 1417.23h-7.8" stroke="#000" stroke-width="2.1" fill="none"/>
<text x="81.7" y="1425.93" font-size="20.3" font-weight="normal" text-anchor="end" fill="#000" stroke="#000" stroke-width="0.3">0.3</text>
<text x="81.7" y="1352.20" font-size="20.3" font-weight="normal" text-anchor="end" fill="#000" stroke="#000" stroke-width="0.3">0.35</text>
<text x="418.20" y="1330.0" font-size="31.7" font-weight="bold" text-anchor="middle" fill="#000" textLength="194.2" lengthAdjust="spacingAndGlyphs" stroke="#000" stroke-width="0.4">White Matter</text>
<text y="1922.1" font-size="26.5" fill="#000"><tspan class="mu" x="357.20" font-size="29" textLength="16.6" lengthAdjust="spacingAndGlyphs">μ</tspan><tspan x="373.00" textLength="105.1" lengthAdjust="spacing" stroke="#000" stroke-width="0.3">FA or FA</tspan></text>
<text transform="translate(30 1601.55) rotate(-90)" font-size="26.3" text-anchor="middle" fill="#000" stroke="#000" stroke-width="0.3">Probability</text>
<rect x="110.2" y="1363.3" width="111.7" height="54" fill="#fff" stroke="#000" stroke-width="2.1"/>
<rect x="116.2" y="1369.2" width="60.2" height="18" fill="#7ea3d6" stroke="#000" stroke-width="2.3"/>
<rect x="116.2" y="1393.3999999999999" width="60.2" height="18.3" fill="rgb(222,106,43)" fill-opacity="0.67" stroke="#000" stroke-width="2.3"/>
<text y="1386.70" font-size="18.8" fill="#000"><tspan class="mu" x="180.60" font-size="19.5" textLength="11.6" lengthAdjust="spacingAndGlyphs">μ</tspan><tspan x="191.60" stroke="#000" stroke-width="0.3">FA</tspan></text>
<text x="181.00" y="1409.80" font-size="18.8" fill="#000" stroke="#000" stroke-width="0.3">FA</text>
</g>
<g>
<rect x="1249.63" y="1858.53" width="19.70" height="1.47" fill="#7ea3d6" fill-opacity="1" stroke="none"/>
<rect x="1269.33" y="1858.82" width="19.70" height="1.18" fill="#7ea3d6" fill-opacity="1" stroke="none"/>
<rect x="1348.15" y="1852.92" width="19.70" height="7.08" fill="#7ea3d6" fill-opacity="1" stroke="none"/>
<rect x="1367.85" y="1858.23" width="19.70" height="1.77" fill="#7ea3d6" fill-opacity="1" stroke="none"/>
<rect x="1426.96" y="1856.61" width="19.70" height="3.39" fill="#7ea3d6" fill-opacity="1" stroke="none"/>
<rect x="1446.67" y="1855.28" width="19.70" height="4.72" fill="#7ea3d6" fill-opacity="1" stroke="none"/>
<rect x="1466.37" y="1846.43" width="19.70" height="13.57" fill="#7ea3d6" fill-opacity="1" stroke="none"/>
<rect x="1486.08" y="1837.59" width="19.70" height="22.41" fill="#7ea3d6" fill-opacity="1" stroke="none"/>
<rect x="1505.78" y="1842.31" width="19.70" height="17.69" fill="#7ea3d6" fill-opacity="1" stroke="none"/>
<rect x="1525.48" y="1825.50" width="19.70" height="34.50" fill="#7ea3d6" fill-opacity="1" stroke="none"/>
<rect x="1545.19" y="1798.07" width="19.70" height="61.93" fill="#7ea3d6" fill-opacity="1" stroke="none"/>
<rect x="1564.89" y="1771.67" width="19.70" height="88.33" fill="#7ea3d6" fill-opacity="1" stroke="none"/>
<rect x="1584.60" y="1734.07" width="19.70" height="125.93" fill="#7ea3d6" fill-opacity="1" stroke="none"/>
<rect x="1604.30" y="1691.46" width="19.70" height="168.54" fill="#7ea3d6" fill-opacity="1" stroke="none"/>
<rect x="1624.00" y="1646.19" width="19.70" height="213.81" fill="#7ea3d6" fill-opacity="1" stroke="none"/>
<rect x="1643.71" y="1646.19" width="19.70" height="213.81" fill="#7ea3d6" fill-opacity="1" stroke="none"/>
<rect x="1663.41" y="1657.84" width="19.70" height="202.16" fill="#7ea3d6" fill-opacity="1" stroke="none"/>
<rect x="1683.12" y="1728.03" width="19.70" height="131.97" fill="#7ea3d6" fill-opacity="1" stroke="none"/>
<rect x="1702.82" y="1753.83" width="19.70" height="106.17" fill="#7ea3d6" fill-opacity="1" stroke="none"/>
<rect x="1722.52" y="1821.96" width="19.70" height="38.04" fill="#7ea3d6" fill-opacity="1" stroke="none"/>
<rect x="1742.23" y="1850.86" width="19.70" height="9.14" fill="#7ea3d6" fill-opacity="1" stroke="none"/>
<rect x="1761.93" y="1855.87" width="6.57" height="4.13" fill="#7ea3d6" fill-opacity="1" stroke="none"/>
<path d="M1249.63 1860.00V1858.53H1269.33V1860.00M1269.33 1860.00V1858.82H1289.04V1860.00M1348.15 1860.00V1852.92H1367.85V1860.00M1367.85 1860.00V1858.23H1387.56V1860.00M1426.96 1860.00V1856.61H1446.67V1860.00M1446.67 1860.00V1855.28H1466.37V1860.00M1466.37 1860.00V1846.43H1486.08V1860.00M1486.08 1860.00V1837.59H1505.78V1860.00M1505.78 1860.00V1842.31H1525.48V1860.00M1525.48 1860.00V1825.50H1545.19V1860.00M1545.19 1860.00V1798.07H1564.89V1860.00M1564.89 1860.00V1771.67H1584.60V1860.00M1584.60 1860.00V1734.07H1604.30V1860.00M1604.30 1860.00V1691.46H1624.00V1860.00M1624.00 1860.00V1646.19H1643.71V1860.00M1643.71 1860.00V1646.19H1663.41V1860.00M1663.41 1860.00V1657.84H1683.12V1860.00M1683.12 1860.00V1728.03H1702.82V1860.00M1702.82 1860.00V1753.83H1722.52V1860.00M1722.52 1860.00V1821.96H1742.23V1860.00M1742.23 1860.00V1850.86H1761.93V1860.00M1761.93 1860.00V1855.87H1768.50V1860.00" fill="none" stroke="#000" stroke-width="2.3" stroke-opacity="1" stroke-linejoin="miter"/>
<rect x="1144.54" y="1814.73" width="32.84" height="45.27" fill="rgb(222,106,43)" fill-opacity="0.67" stroke="none"/>
<rect x="1177.38" y="1666.09" width="32.84" height="193.91" fill="rgb(222,106,43)" fill-opacity="0.67" stroke="none"/>
<rect x="1210.22" y="1573.64" width="32.84" height="286.36" fill="rgb(222,106,43)" fill-opacity="0.67" stroke="none"/>
<rect x="1243.06" y="1611.53" width="32.84" height="248.47" fill="rgb(222,106,43)" fill-opacity="0.67" stroke="none"/>
<rect x="1275.90" y="1699.12" width="32.84" height="160.88" fill="rgb(222,106,43)" fill-opacity="0.67" stroke="none"/>
<rect x="1308.74" y="1779.78" width="32.84" height="80.22" fill="rgb(222,106,43)" fill-opacity="0.67" stroke="none"/>
<rect x="1341.58" y="1792.32" width="32.84" height="67.68" fill="rgb(222,106,43)" fill-opacity="0.67" stroke="none"/>
<rect x="1374.42" y="1797.04" width="32.84" height="62.96" fill="rgb(222,106,43)" fill-opacity="0.67" stroke="none"/>
<rect x="1407.26" y="1792.32" width="32.84" height="67.68" fill="rgb(222,106,43)" fill-opacity="0.67" stroke="none"/>
<rect x="1440.10" y="1810.31" width="32.84" height="49.69" fill="rgb(222,106,43)" fill-opacity="0.67" stroke="none"/>
<rect x="1472.94" y="1813.26" width="32.84" height="46.74" fill="rgb(222,106,43)" fill-opacity="0.67" stroke="none"/>
<rect x="1505.78" y="1810.31" width="32.84" height="49.69" fill="rgb(222,106,43)" fill-opacity="0.67" stroke="none"/>
<rect x="1538.62" y="1794.97" width="32.84" height="65.03" fill="rgb(222,106,43)" fill-opacity="0.67" stroke="none"/>
<rect x="1571.46" y="1826.53" width="32.84" height="33.47" fill="rgb(222,106,43)" fill-opacity="0.67" stroke="none"/>
<rect x="1604.30" y="1849.83" width="32.84" height="10.17" fill="rgb(222,106,43)" fill-opacity="0.67" stroke="none"/>
<path d="M1249.63 1860.00V1858.53H1269.33V1860.00M1269.33 1860.00V1858.82H1289.04V1860.00M1348.15 1860.00V1852.92H1367.85V1860.00M1367.85 1860.00V1858.23H1387.56V1860.00M1426.96 1860.00V1856.61H1446.67V1860.00M1446.67 1860.00V1855.28H1466.37V1860.00M1466.37 1860.00V1846.43H1486.08V1860.00M1486.08 1860.00V1837.59H1505.78V1860.00M1505.78 1860.00V1842.31H1525.48V1860.00M1525.48 1860.00V1825.50H1545.19V1860.00M1545.19 1860.00V1798.07H1564.89V1860.00M1564.89 1860.00V1771.67H1584.60V1860.00M1584.60 1860.00V1734.07H1604.30V1860.00M1604.30 1860.00V1691.46H1624.00V1860.00M1624.00 1860.00V1646.19H1643.71V1860.00M1643.71 1860.00V1646.19H1663.41V1860.00M1663.41 1860.00V1657.84H1683.12V1860.00M1683.12 1860.00V1728.03H1702.82V1860.00M1702.82 1860.00V1753.83H1722.52V1860.00M1722.52 1860.00V1821.96H1742.23V1860.00M1742.23 1860.00V1850.86H1761.93V1860.00M1761.93 1860.00V1855.87H1768.50V1860.00" fill="none" stroke="#000" stroke-width="2.3" stroke-opacity="0.3" stroke-linejoin="miter"/>
<path d="M1144.54 1860.00V1814.73H1177.38V1860.00M1177.38 1860.00V1666.09H1210.22V1860.00M1210.22 1860.00V1573.64H1243.06V1860.00M1243.06 1860.00V1611.53H1275.90V1860.00M1275.90 1860.00V1699.12H1308.74V1860.00M1308.74 1860.00V1779.78H1341.58V1860.00M1341.58 1860.00V1792.32H1374.42V1860.00M1374.42 1860.00V1797.04H1407.26V1860.00M1407.26 1860.00V1792.32H1440.10V1860.00M1440.10 1860.00V1810.31H1472.94V1860.00M1472.94 1860.00V1813.26H1505.78V1860.00M1505.78 1860.00V1810.31H1538.62V1860.00M1538.62 1860.00V1794.97H1571.46V1860.00M1571.46 1860.00V1826.53H1604.30V1860.00M1604.30 1860.00V1849.83H1637.14V1860.00" fill="none" stroke="#000" stroke-width="2.3" stroke-opacity="1" stroke-linejoin="miter"/>
<rect x="1111.7" y="1343.9" width="656.8" height="516.0999999999999" fill="none" stroke="#000" stroke-width="2.5"/>
<text x="1111.70" y="1888.90" font-size="20.3" font-weight="normal" text-anchor="middle" fill="#000" stroke="#000" stroke-width="0.3">0</text>
<path d="M1243.06 1860.0v-7.8M1243.06 1343.9v7.8" stroke="#000" stroke-width="2.1" fill="none"/>
<text x="1243.06" y="1888.90" font-size="20.3" font-weight="normal" text-anchor="middle" fill="#000" stroke="#000" stroke-width="0.3">0.2</text>
<path d="M1374.42 1860.0v-7.8M1374.42 1343.9v7.8" stroke="#000" stroke-width="2.1" fill="none"/>
<text x="1374.42" y="1888.90" font-size="20.3" font-weight="normal" text-anchor="middle" fill="#000" stroke="#000" stroke-width="0.3">0.4</text>
<path d="M1505.78 1860.0v-7.8M1505.78 1343.9v7.8" stroke="#000" stroke-width="2.1" fill="none"/>
<text x="1505.78" y="1888.90" font-size="20.3" font-weight="normal" text-anchor="middle" fill="#000" stroke="#000" stroke-width="0.3">0.6</text>
<path d="M1637.14 1860.0v-7.8M1637.14 1343.9v7.8" stroke="#000" stroke-width="2.1" fill="none"/>
<text x="1637.14" y="1888.90" font-size="20.3" font-weight="normal" text-anchor="middle" fill="#000" stroke="#000" stroke-width="0.3">0.8</text>
<text x="1768.50" y="1888.90" font-size="20.3" font-weight="normal" text-anchor="middle" fill="#000" stroke="#000" stroke-width="0.3">1</text>
<text x="1103.7" y="1868.70" font-size="20.3" font-weight="normal" text-anchor="end" fill="#000" stroke="#000" stroke-width="0.3">0</text>
<path d="M1111.7 1786.27h7.8M1768.5 1786.27h-7.8" stroke="#000" stroke-width="2.1" fill="none"/>
<text x="1103.7" y="1794.97" font-size="20.3" font-weight="normal" text-anchor="end" fill="#000" stroke="#000" stroke-width="0.3">0.05</text>
<path d="M1111.7 1712.54h7.8M1768.5 1712.54h-7.8" stroke="#000" stroke-width="2.1" fill="none"/>
<text x="1103.7" y="1721.24" font-size="20.3" font-weight="normal" text-anchor="end" fill="#000" stroke="#000" stroke-width="0.3">0.1</text>
<path d="M1111.7 1638.81h7.8M1768.5 1638.81h-7.8" stroke="#000" stroke-width="2.1" fill="none"/>
<text x="1103.7" y="1647.51" font-size="20.3" font-weight="normal" text-anchor="end" fill="#000" stroke="#000" stroke-width="0.3">0.15</text>
<path d="M1111.7 1565.09h7.8M1768.5 1565.09h-7.8" stroke="#000" stroke-width="2.1" fill="none"/>
<text x="1103.7" y="1573.79" font-size="20.3" font-weight="normal" text-anchor="end" fill="#000" stroke="#000" stroke-width="0.3">0.2</text>
<path d="M1111.7 1491.36h7.8M1768.5 1491.36h-7.8" stroke="#000" stroke-width="2.1" fill="none"/>
<text x="1103.7" y="1500.06" font-size="20.3" font-weight="normal" text-anchor="end" fill="#000" stroke="#000" stroke-width="0.3">0.25</text>
<path d="M1111.7 1417.63h7.8M1768.5 1417.63h-7.8" stroke="#000" stroke-width="2.1" fill="none"/>
<text x="1103.7" y="1426.33" font-size="20.3" font-weight="normal" text-anchor="end" fill="#000" stroke="#000" stroke-width="0.3">0.3</text>
<text x="1103.7" y="1352.60" font-size="20.3" font-weight="normal" text-anchor="end" fill="#000" stroke="#000" stroke-width="0.3">0.35</text>
<text x="1440.10" y="1331.0" font-size="31.7" font-weight="bold" text-anchor="middle" fill="#000" textLength="180.2" lengthAdjust="spacingAndGlyphs" stroke="#000" stroke-width="0.4">Gray Matter</text>
<text y="1922.3" font-size="26.5" fill="#000"><tspan class="mu" x="1379.10" font-size="29" textLength="16.6" lengthAdjust="spacingAndGlyphs">μ</tspan><tspan x="1394.90" textLength="105.1" lengthAdjust="spacing" stroke="#000" stroke-width="0.3">FA or FA</tspan></text>
<text transform="translate(1052 1601.95) rotate(-90)" font-size="26.3" text-anchor="middle" fill="#000" stroke="#000" stroke-width="0.3">Probability</text>
<rect x="1131.7" y="1363.9" width="111.7" height="54" fill="#fff" stroke="#000" stroke-width="2.1"/>
<rect x="1137.7" y="1369.8000000000002" width="60.2" height="18" fill="#7ea3d6" stroke="#000" stroke-width="2.3"/>
<rect x="1137.7" y="1394.0" width="60.2" height="18.3" fill="rgb(222,106,43)" fill-opacity="0.67" stroke="#000" stroke-width="2.3"/>
<text y="1387.30" font-size="18.8" fill="#000"><tspan class="mu" x="1202.10" font-size="19.5" textLength="11.6" lengthAdjust="spacingAndGlyphs">μ</tspan><tspan x="1213.10" stroke="#000" stroke-width="0.3">FA</tspan></text>
<text x="1202.50" y="1410.40" font-size="18.8" fill="#000" stroke="#000" stroke-width="0.3">FA</text>
</g>
</svg>
</body>
</html>
